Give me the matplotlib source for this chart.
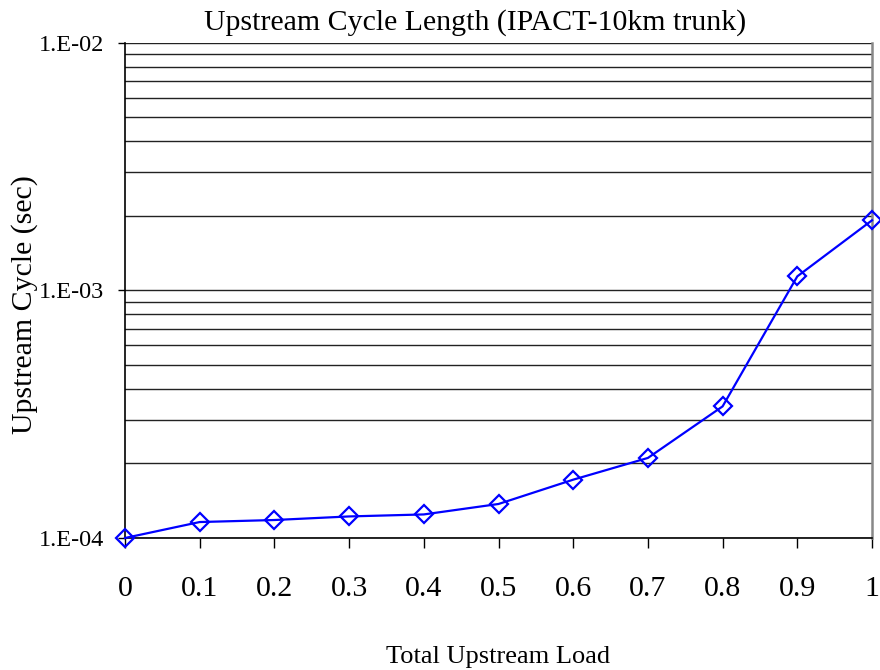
import numpy as np
import matplotlib
matplotlib.use("Agg")
import matplotlib.pyplot as plt
from matplotlib.ticker import LogLocator, FuncFormatter, NullFormatter

plt.rcParams['font.family'] = ['Liberation Serif', 'DejaVu Serif']

# data
load = [0, 0.1, 0.2, 0.3, 0.4, 0.5, 0.6, 0.7, 0.8, 0.9, 1]
cycle = [1.0e-4, 1.16e-4, 1.182e-4, 1.222e-4, 1.245e-4, 1.372e-4,
         1.72e-4, 2.105e-4, 3.40e-4, 1.139e-3, 1.918e-3]
x_labels = ['0', '0.1', '0.2', '0.3', '0.4', '0.5', '0.6', '0.7', '0.8', '0.9', '1']

fig = plt.figure(figsize=(8.8, 6.7), dpi=100)
ax = fig.add_axes([125 / 880, 1 - 538 / 670, (872 - 125) / 880, (538 - 42.7) / 670])

ax.set_yscale('log')
ax.set_ylim(1e-4, 1e-2)
ax.set_xlim(0, 1)

# horizontal grid (major + minor)
ax.yaxis.set_major_locator(LogLocator(base=10))
ax.yaxis.set_minor_locator(LogLocator(base=10, subs=np.arange(2, 10)))
ax.yaxis.set_minor_formatter(NullFormatter())
ax.yaxis.set_major_formatter(FuncFormatter(lambda v, p: '1.E%03d' % int(round(np.log10(v))) if v < 1 else ''))
ax.grid(True, which='both', axis='y', color='#222222', linewidth=1.0)
ax.set_axisbelow(True)

ax.plot(load, cycle, color='#0000FF', linewidth=1.6, marker='D', markersize=9.5,
        markerfacecolor='none', markeredgecolor='#0000FF', markeredgewidth=1.6,
        clip_on=False, zorder=3)

ax.set_xticks(load)
ax.set_xticklabels(x_labels, fontsize=21.5)
ax.tick_params(axis='x', direction='out', length=7, width=1, pad=20)
ax.tick_params(axis='y', which='major', direction='out', length=5, width=1, labelsize=17.5, pad=10)
ax.tick_params(axis='y', which='minor', length=0)

for s in ['left', 'bottom']:
    ax.spines[s].set_color('black')
    ax.spines[s].set_linewidth(1.2)
ax.spines['right'].set_color('#888888')
ax.spines['right'].set_linewidth(1.8)
ax.spines['top'].set_visible(False)

fig.text(475 / 880, 1 - 30 / 670, 'Upstream Cycle Length (IPACT-10km trunk)',
         fontsize=21.5, ha='center', va='baseline')
fig.text(498 / 880, 1 - 663 / 670, 'Total Upstream Load', fontsize=19,
         ha='center', va='baseline')
fig.text(25 / 880, 1 - 305 / 670, 'Upstream Cycle (sec)', fontsize=21.5,
         rotation=90, ha='center', va='center')

fig.savefig('out.png', dpi=100)
